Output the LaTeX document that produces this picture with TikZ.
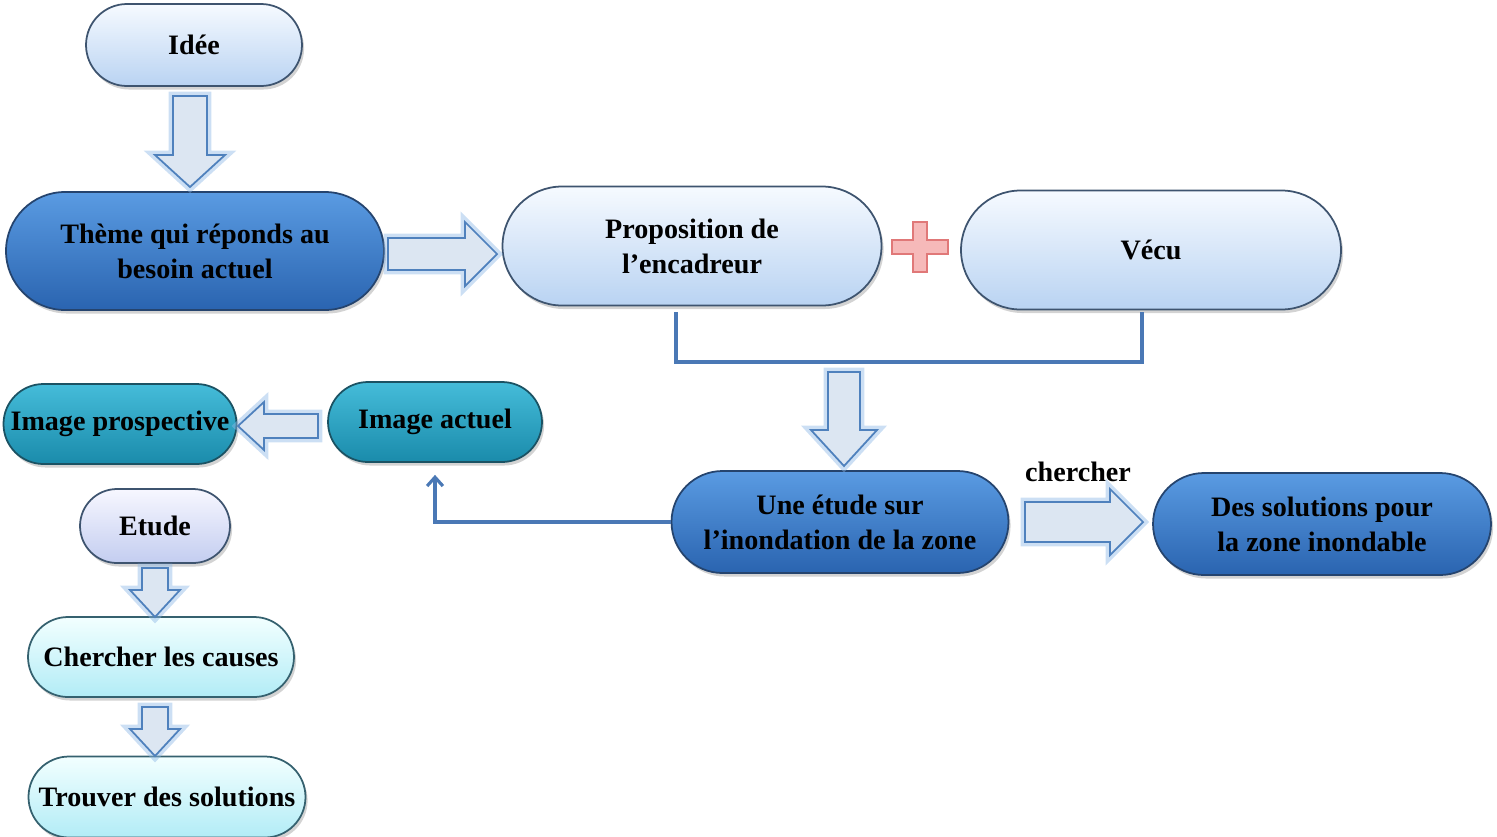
\documentclass[tikz,border=0pt]{standalone}
\usepackage{fontspec}
\setmainfont{Liberation Serif}
\usetikzlibrary{shapes.misc,shadows,arrows.meta}
\definecolor{lighttop}{HTML}{F6FAFF}
\definecolor{lightbot}{HTML}{B9D3F2}
\definecolor{lightbd}{HTML}{3E546F}
\definecolor{darktop}{HTML}{5A9BE2}
\definecolor{darkbot}{HTML}{2A64B0}
\definecolor{darkbd}{HTML}{25446E}
\definecolor{tealtop}{HTML}{45BCD9}
\definecolor{tealbot}{HTML}{1A8BAB}
\definecolor{tealbd}{HTML}{1B5263}
\definecolor{lavtop}{HTML}{F7F7FF}
\definecolor{lavbot}{HTML}{C3CDF0}
\definecolor{cyantop}{HTML}{F2FFFF}
\definecolor{cyanbot}{HTML}{B2ECF6}
\definecolor{cyanbd}{HTML}{35616F}
\definecolor{arrfill}{HTML}{DCE6F2}
\definecolor{arrbd}{HTML}{4F81BD}
\definecolor{glow}{HTML}{8DB8E6}
\definecolor{linec}{HTML}{4A78B5}
\definecolor{plusfill}{HTML}{F6B9B9}
\definecolor{plusbd}{HTML}{E07878}
\newcommand\varr[6]{% cx, y0, ytip, shaft half, head half, head start
  \draw[barrow] ({#1-#4},#2) -- ({#1+#4},#2) -- ({#1+#4},#6) -- ({#1+#5},#6) -- (#1,#3) -- ({#1-#5},#6) -- ({#1-#4},#6) -- cycle;}
\newcommand\harr[6]{% cy, x0, xtip, shaft half, head half, head start
  \draw[barrow] (#2,{#1-#4}) -- (#2,{#1+#4}) -- (#6,{#1+#4}) -- (#6,{#1+#5}) -- (#3,#1) -- (#6,{#1-#5}) -- (#6,{#1-#4}) -- cycle;}
\tikzset{
  pill/.style={rounded rectangle, align=center, font=\fontsize{16}{20}\selectfont\bfseries,
    line width=1pt, inner sep=2pt,
    drop shadow={shadow xshift=1.2pt, shadow yshift=-2pt, opacity=.35}},
  lightpill/.style={pill, top color=lighttop, bottom color=lightbot, draw=lightbd},
  darkpill/.style={pill, top color=darktop, bottom color=darkbot, draw=darkbd},
  tealpill/.style={pill, top color=tealtop, bottom color=tealbot, draw=tealbd},
  lavpill/.style={pill, top color=lavtop, bottom color=lavbot, draw=lightbd},
  cyanpill/.style={pill, top color=cyantop, bottom color=cyanbot, draw=cyanbd},
  barrow/.style={fill=arrfill, draw=arrbd, line width=1pt, line join=miter,
    preaction={draw=glow, line width=5pt, opacity=.45}},
  connline/.style={draw=linec, line width=1.8pt},
}
\begin{document}
\begin{tikzpicture}[x=0.02cm,y=-0.02cm]
\useasboundingbox (0,0) rectangle (1497,836);
% nodes
\node[lightpill, minimum width=223*0.02cm, minimum height=82*0.02cm] (idee) at (194,45) {Idée};
\node[darkpill, minimum width=385*0.02cm, minimum height=118*0.02cm] (theme) at (195,251) {Thème qui réponds au\\besoin actuel};
\node[lightpill, minimum width=386*0.02cm, minimum height=119*0.02cm] (prop) at (692,246) {Proposition de\\l’encadreur};
\node[lightpill, minimum width=387*0.02cm, minimum height=119*0.02cm] (vecu) at (1151,250) {Vécu};
\node[darkpill, minimum width=344*0.02cm, minimum height=102*0.02cm] (etude) at (840,522) {Une étude sur\\l’inondation de la zone};
\node[darkpill, minimum width=345*0.02cm, minimum height=102*0.02cm] (sol) at (1322,524) {Des solutions pour\\la zone inondable};
\node[tealpill, minimum width=233*0.02cm, minimum height=80*0.02cm, inner sep=0pt] (prosp) at (120,424) {Image prospective};
\node[tealpill, minimum width=221*0.02cm, minimum height=80*0.02cm] (actuel) at (435,422) {Image actuel};
\node[lavpill, minimum width=157*0.02cm, minimum height=74*0.02cm] (etu) at (155,526) {Etude};
\node[cyanpill, minimum width=273*0.02cm, minimum height=80*0.02cm] (causes) at (161,657) {Chercher les causes};
\node[cyanpill, minimum width=277*0.02cm, minimum height=81*0.02cm, inner sep=0pt] (trouver) at (167,797) {Trouver des solutions};
\node[font=\fontsize{16}{20}\selectfont\bfseries] (cherch) at (1078,472) {chercher};
% plus sign
\draw[fill=plusfill, draw=plusbd, line width=0.8pt]
  (913,222) -- (927,222) -- (927,240) -- (948,240) -- (948,254) -- (927,254) -- (927,272)
  -- (913,272) -- (913,254) -- (892,254) -- (892,240) -- (913,240) -- cycle;
% block arrows
\varr{190}{96}{187}{17}{35}{155}
\harr{254}{388}{497}{16}{32}{465}
\varr{844}{372}{466}{16}{33}{430}
\harr{522}{1025}{1143}{20}{33}{1110}
\harr{426}{318}{238}{12}{24}{264}
\varr{155}{568}{617}{13}{25}{590}
\varr{155}{707}{756}{13}{25}{729}
% bracket
\coordinate (b1) at (676,312);
\coordinate (b2) at (1142,312);
\draw[connline] (b1) -- (676,362) -- (1142,362) -- (b2);
% connector etude -> image actuel
\draw[connline, -{Straight Barb[length=5pt,width=9pt]}, shorten >=12*0.02cm] (etude.west) -| (actuel.south);
\end{tikzpicture}
\end{document}
